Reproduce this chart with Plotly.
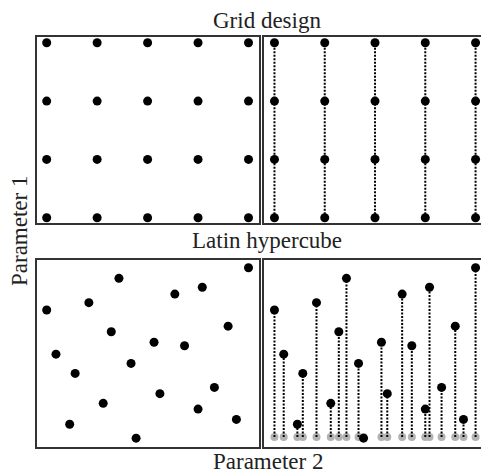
import plotly.graph_objects as go

# ---- data ----
grid_x = [0.0, 0.25, 0.5, 0.75, 1.0]
grid_y = [0.0, 1/3, 2/3, 1.0]

lhs_x = [0.0, 0.046, 0.114, 0.141, 0.209, 0.280, 0.320, 0.358, 0.418, 0.443,
         0.532, 0.561, 0.635, 0.683, 0.750, 0.771, 0.831, 0.899, 0.940, 1.0]
lhs_y = [0.751, 0.499, 0.098, 0.389, 0.793, 0.218, 0.627, 0.932, 0.446, 0.019,
         0.567, 0.273, 0.842, 0.547, 0.185, 0.881, 0.309, 0.659, 0.126, 0.993]
proj_level = 0.025

W, H = 481, 473
FONT = "Liberation Serif"

def px_x(p):
    return p / W

def px_y(p):
    return 1 - p / H

fig = go.Figure()

gx = [x for x in grid_x for _ in grid_y]
gy = [y for _ in grid_x for y in grid_y]

black = dict(color="black", size=9)
dotted = dict(color="black", width=2, dash="2px,1.5px")
# top-left: grid
fig.add_trace(go.Scatter(x=gx, y=gy, mode="markers", marker=black, xaxis="x", yaxis="y"))
# top-right: grid with projections
lx, ly = [], []
for x in grid_x:
    lx += [x, x, None]
    ly += [min(grid_y), max(grid_y), None]
fig.add_trace(go.Scatter(x=lx, y=ly, mode="lines", line=dotted, xaxis="x2", yaxis="y2"))
fig.add_trace(go.Scatter(x=gx, y=gy, mode="markers", marker=black, xaxis="x2", yaxis="y2"))
# bottom-left: LHS
fig.add_trace(go.Scatter(x=lhs_x, y=lhs_y, mode="markers", marker=black, xaxis="x3", yaxis="y3"))
# bottom-right: LHS with projections
fig.add_trace(go.Scatter(x=lhs_x, y=[proj_level] * len(lhs_x), mode="markers",
                         marker=dict(color="#b3b3b3", size=8), xaxis="x4", yaxis="y4"))
lx, ly = [], []
for x, y in zip(lhs_x, lhs_y):
    lx += [x, x, None]
    ly += [proj_level, y, None]
fig.add_trace(go.Scatter(x=lx, y=ly, mode="lines", line=dotted, xaxis="x4", yaxis="y4"))
fig.add_trace(go.Scatter(x=lhs_x, y=lhs_y, mode="markers", marker=black, xaxis="x4", yaxis="y4"))

left_dom = [px_x(37), px_x(259)]
right_dom = [px_x(264), 1.0]
top_dom = [px_y(223), px_y(37)]
bot_dom = [px_y(446.7), px_y(260)]

axcommon = dict(showticklabels=False, ticks="", showgrid=False, zeroline=False,
                showline=True, linecolor="#333333", linewidth=1.5, fixedrange=True)

fig.update_layout(
    width=W, height=H, margin=dict(l=0, r=0, t=0, b=0),
    paper_bgcolor="white", plot_bgcolor="white", showlegend=False,
    xaxis=dict(domain=left_dom, range=[-0.048, 1.052], anchor="y", mirror=True, **axcommon),
    yaxis=dict(domain=top_dom, range=[-0.030, 1.033], anchor="x", mirror=True, **axcommon),
    xaxis2=dict(domain=right_dom, range=[-0.052, 1.027], anchor="y2", mirror=True, **axcommon),
    yaxis2=dict(domain=top_dom, range=[-0.030, 1.033], anchor="x2", mirror=False, **axcommon),
    xaxis3=dict(domain=left_dom, range=[-0.048, 1.052], anchor="y3", mirror=True, **axcommon),
    yaxis3=dict(domain=bot_dom, range=[-0.030, 1.037], anchor="x3", mirror=True, **axcommon),
    xaxis4=dict(domain=right_dom, range=[-0.052, 1.027], anchor="y4", mirror=True, **axcommon),
    yaxis4=dict(domain=bot_dom, range=[-0.030, 1.037], anchor="x4", mirror=False, **axcommon),
)

def label(text, x, y, angle=0):
    fig.add_annotation(text=text, x=px_x(x), y=px_y(y), xref="paper", yref="paper",
                       showarrow=False, textangle=angle, xanchor="center", yanchor="middle",
                       font=dict(family=FONT, size=23, color="#222222"))

label("Grid design", 267, 20)
label("Latin hypercube", 267, 240)
label("Parameter 2", 268, 461)
label("Parameter 1", 19, 231, angle=-90)

fig.write_html("out.html")
